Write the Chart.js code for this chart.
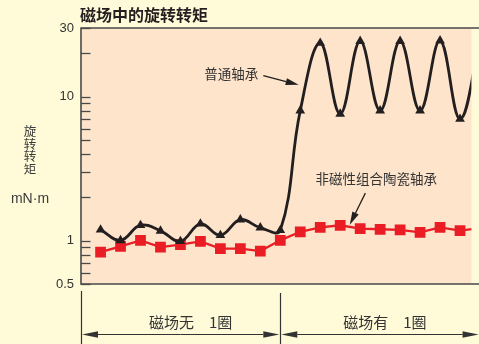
<!DOCTYPE html>
<html>
<head>
<meta charset="utf-8">
<script src="https://cdn.jsdelivr.net/npm/chart.js@4.4.1/dist/chart.umd.min.js"></script>
<style>
  html, body { margin: 0; padding: 0; background: #fffbd8; overflow: hidden; }
  #wrap { position: relative; width: 479px; height: 344px; }
  canvas { display: block; }
</style>
</head>
<body>
<div id="wrap"><canvas id="torque" width="479" height="344"></canvas></div>
<script>
// Sample steps along the rotation; steps 0-9 without field, 9-19 with field
const steps = [0, 1, 2, 3, 4, 5, 6, 7, 8, 9, 10, 11, 12, 13, 14, 15, 16, 17, 18, 19];

// Rotational torque, mN·m
const ordinaryBearing = [1.19, 1.005, 1.28, 1.17, 0.99, 1.31, 1.09, 1.40, 1.23, 1.18,
                         8.0, 23.6, 7.6, 24.3, 8.0, 24.3, 8.0, 24.5, 7.0, 24.5];
const ceramicBearing  = [0.833, 0.913, 1.005, 0.903, 0.938, 0.989, 0.880, 0.880, 0.847, 1.005,
                         1.152, 1.238, 1.279, 1.213, 1.20, 1.19, 1.143, 1.238, 1.174, 1.22];

// Y axis tick values (log scale)
const majorTicks = [0.5, 1, 10, 30];
const minorTicks = [0.6, 0.7, 0.8, 0.9, 2, 3, 4, 5, 6, 7, 8, 9, 20];

// Text
const chartTitle = '磁场中的旋转转矩';
const axisTitle = ['旋', '转', '转', '矩'];
const axisUnit = 'mN·m';
const seriesNames = ['普通轴承', '非磁性组合陶瓷轴承'];
const fieldSegments = ['磁场无　1圈', '磁场有　1圈'];
const fieldBoundary = 9;

const X_MIN = -0.98, X_MAX = 18.57;
const CJK = '"Noto Sans CJK SC", "Noto Sans", sans-serif';
const LATIN = '"Liberation Sans", Arial, sans-serif';

function arrow(ctx, x1, y1, x2, y2, len, half) {
  const a = Math.atan2(y2 - y1, x2 - x1);
  const bx = x2 - Math.cos(a) * len, by = y2 - Math.sin(a) * len;
  ctx.beginPath();
  ctx.moveTo(x1, y1);
  ctx.lineTo(bx, by);
  ctx.stroke();
  ctx.beginPath();
  ctx.moveTo(x2, y2);
  ctx.lineTo(bx + Math.sin(a) * half, by - Math.cos(a) * half);
  ctx.lineTo(bx - Math.sin(a) * half, by + Math.cos(a) * half);
  ctx.closePath();
  ctx.fill();
}

const framePlugin = {
  id: 'frame',
  beforeDraw(chart) {
    const { ctx, chartArea: a } = chart;
    ctx.save();
    ctx.fillStyle = '#fffbd8';
    ctx.fillRect(0, 0, chart.width, chart.height);
    ctx.fillStyle = '#fde4cb';
    ctx.fillRect(a.left, a.top, a.right - a.left, a.bottom - a.top);
    ctx.restore();
  },
  beforeDatasetsDraw(chart) {
    const { ctx, chartArea: a, scales: { y } } = chart;
    ctx.save();
    ctx.strokeStyle = '#4a4a4a';
    ctx.lineWidth = 1.3;
    [...majorTicks, ...minorTicks].forEach(v => {
      const py = Math.round(y.getPixelForValue(v)) + 0.5;
      ctx.beginPath();
      ctx.moveTo(a.left, py);
      ctx.lineTo(a.left + 9.5, py);
      ctx.stroke();
    });
    ctx.lineWidth = 1.6;
    ctx.beginPath();
    ctx.moveTo(chart.width + 2, a.top);
    ctx.lineTo(a.left, a.top);
    ctx.lineTo(a.left, a.bottom);
    ctx.lineTo(chart.width + 2, a.bottom);
    ctx.stroke();
    ctx.restore();
  },
  afterDraw(chart) {
    const { ctx, chartArea: a, scales: { x, y } } = chart;
    ctx.save();
    // title
    ctx.fillStyle = '#231f20';
    ctx.font = 'bold 16px ' + CJK;
    ctx.textBaseline = 'middle';
    ctx.textAlign = 'left';
    ctx.fillText(chartTitle, 80, 15);

    // vertical axis title
    ctx.fillStyle = '#3a3a3a';
    ctx.font = '12.5px ' + CJK;
    ctx.textAlign = 'center';
    axisTitle.forEach((ch, i) => ctx.fillText(ch, 30, 131 + i * 12.8));
    ctx.font = '14px ' + LATIN;
    ctx.fillText(axisUnit, 30, 199);

    // series callouts
    ctx.strokeStyle = '#231f20';
    ctx.fillStyle = '#231f20';
    ctx.lineWidth = 1.3;
    arrow(ctx, x.getPixelForValue(8.15), y.getPixelForValue(14.0),
               x.getPixelForValue(9.92), y.getPixelForValue(12.1), 13, 3.5);
    arrow(ctx, x.getPixelForValue(13.26), y.getPixelForValue(2.14),
               x.getPixelForValue(12.48), y.getPixelForValue(1.29), 13, 3.5);
    ctx.fillStyle = '#333';
    ctx.font = '13.5px ' + CJK;
    ctx.textAlign = 'center';
    ctx.fillText(seriesNames[0], x.getPixelForValue(6.55), y.getPixelForValue(14.45));
    ctx.fillText(seriesNames[1], x.getPixelForValue(13.8), y.getPixelForValue(2.68));

    // field on / off brackets
    const xl = a.left;
    const xm = x.getPixelForValue(fieldBoundary);
    const xr = x.getPixelForValue(fieldBoundary + (fieldBoundary - X_MIN));
    ctx.strokeStyle = '#333';
    ctx.fillStyle = '#333';
    ctx.lineWidth = 1.2;
    ctx.beginPath();
    ctx.moveTo(Math.round(xl) + 0.5, 291); ctx.lineTo(Math.round(xl) + 0.5, 344);
    ctx.moveTo(Math.round(xm) + 0.5, 293); ctx.lineTo(Math.round(xm) + 0.5, 344);
    ctx.stroke();
    const ay = 334.5;
    [[xl, xm], [xm, xr]].forEach(([p, q]) => {
      const mid = (p + q) / 2;
      arrow(ctx, mid, ay, p + 1, ay, 16, 3.2);
      arrow(ctx, mid, ay, q - 1, ay, 16, 3.2);
    });
    ctx.font = '15px ' + CJK;
    ctx.textAlign = 'center';
    ctx.fillText(fieldSegments[0], (xl + xm) / 2 + 10, 322);
    ctx.fillText(fieldSegments[1], (xm + xr) / 2 + 5, 322);
    ctx.restore();
  }
};

new Chart(document.getElementById('torque'), {
  type: 'line',
  data: {
    datasets: [
      {
        label: seriesNames[0],
        data: steps.map((s, i) => ({ x: s, y: ordinaryBearing[i] })),
        borderColor: '#231f20',
        borderWidth: 2.8,
        tension: 0.4,
        pointStyle: 'triangle',
        pointRadius: 5.6,
        pointBackgroundColor: '#231f20',
        pointBorderWidth: 0,
        order: 0
      },
      {
        label: seriesNames[1],
        data: steps.map((s, i) => ({ x: s, y: ceramicBearing[i] })),
        borderColor: '#ea1d25',
        borderWidth: 2.3,
        tension: 0,
        pointStyle: 'rect',
        pointRadius: 7.6,
        pointBackgroundColor: '#ea1d25',
        pointBorderWidth: 0,
        order: 1
      }
    ]
  },
  options: {
    responsive: false,
    animation: false,
    devicePixelRatio: 1,
    layout: { padding: { top: 28, bottom: 60, left: 0, right: 0 } },
    plugins: { legend: { display: false }, tooltip: { enabled: false } },
    scales: {
      x: { type: 'linear', min: X_MIN, max: X_MAX, display: false },
      y: {
        type: 'logarithmic',
        min: 0.5,
        max: 30,
        afterFit(s) { s.width = 81; },
        afterBuildTicks(s) {
          s.ticks = [...majorTicks, ...minorTicks].sort((p, q) => p - q).map(v => ({ value: v }));
        },
        ticks: {
          autoSkip: false,
          padding: 7,
          color: '#333',
          font: { family: LATIN, size: 13 },
          callback: v => (majorTicks.includes(v) ? String(v) : '')
        },
        grid: { display: false, drawTicks: false },
        border: { display: false }
      }
    }
  },
  plugins: [framePlugin]
});
</script>
</body>
</html>
